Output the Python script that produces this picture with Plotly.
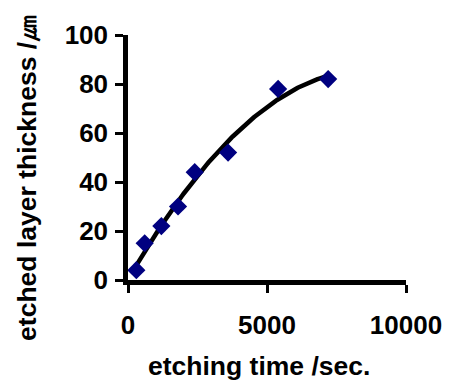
import numpy as np
import plotly.graph_objects as go

etch_time = [300, 600, 1200, 1800, 2400, 3600, 5400, 7200]
thickness = [4, 15, 22, 30, 44, 52, 78, 82]
x_ticks = [0, 5000, 10000]
y_ticks = [0, 20, 40, 60, 80, 100]

coef = np.polyfit(etch_time, thickness, 2)
xs = np.linspace(min(etch_time), max(etch_time), 200)
ys = np.polyval(coef, xs)

FONT = "Arial, Liberation Sans, sans-serif"

fig = go.Figure()
fig.add_trace(go.Scatter(x=xs, y=ys, mode="lines",
                         line=dict(color="black", width=4.5), showlegend=False,
                         hoverinfo="skip"))
fig.add_trace(go.Scatter(x=etch_time, y=thickness, mode="markers",
                         marker=dict(symbol="diamond", size=14, color="#000080",
                                     line=dict(width=0)),
                         showlegend=False))

fig.update_layout(
    width=454, height=383,
    margin=dict(l=128, r=40, t=35, b=103),
    paper_bgcolor="white", plot_bgcolor="white",
    font=dict(family=FONT, color="black"),
    xaxis=dict(range=[0, 10000], tickvals=x_ticks, ticktext=[str(v) for v in x_ticks],
               showgrid=False, zeroline=False, showline=True, linecolor="black",
               linewidth=4.5, ticks="outside", ticklen=8, tickwidth=3, tickcolor="black",
               ticklabelstandoff=10,
               tickfont=dict(size=26, family=FONT, color="black", weight="bold")),
    yaxis=dict(range=[0, 100], tickvals=y_ticks,
               showgrid=False, zeroline=False, showline=True, linecolor="black",
               linewidth=4.5, ticks="outside", ticklen=8, tickwidth=3, tickcolor="black",
               ticklabelstandoff=2,
               tickfont=dict(size=26, family=FONT, color="black", weight="bold")),
    annotations=[
        dict(text="<b>etched layer thickness /㎛</b>", xref="paper", yref="paper",
             x=-0.364, y=0.416, xanchor="center", yanchor="middle",
             textangle=-90, showarrow=False,
             font=dict(size=26.5, family=FONT, color="black")),
        dict(text="<b>etching time /sec.</b>", xref="paper", yref="paper",
             x=0.472, y=-0.351, xanchor="center", yanchor="middle",
             showarrow=False,
             font=dict(size=26.5, family=FONT, color="black")),
    ],
)

fig.write_html("out.html")
